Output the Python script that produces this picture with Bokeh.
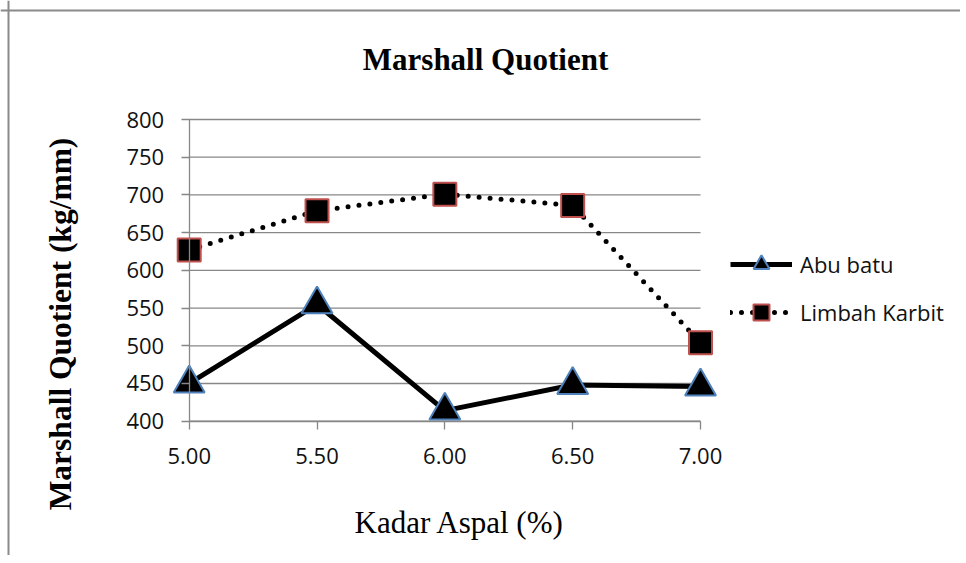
from bokeh.plotting import figure
from bokeh.models import (ColumnDataSource, Legend, LegendItem, Label, FixedTicker,
                          NumeralTickFormatter, Range1d, Span)
from bokeh.embed import file_html
from bokeh.resources import INLINE
import math

# ---- data ----
kadar_aspal = [5.00, 5.50, 6.00, 6.50, 7.00]
abu_batu = [450, 555, 414, 448, 446]
limbah_karbit = [627, 679, 701, 686, 504]
x_ticks = [5.0, 5.5, 6.0, 6.5, 7.0]
y_ticks = [400, 450, 500, 550, 600, 650, 700, 750, 800]

title_text = "Marshall Quotient"
x_title = "Kadar Aspal (%)"
y_title = "Marshall Quotient (kg/mm)"

# ---- geometry: where the data box sits on the canvas (px) ----
W, H = 960, 555
PX_L, PX_R = 188.7, 700.0    # x = 5.0 and 7.0
PY_B, PY_T = 420.7, 119.0    # y = 400 and 800
X0, X1 = x_ticks[0], x_ticks[-1]
Y0, Y1 = y_ticks[0], y_ticks[-1]

def dx(px):
    return X0 + (px - PX_L) * (X1 - X0) / (PX_R - PX_L)

def dy(py):
    return Y0 + (PY_B - py) * (Y1 - Y0) / (PY_B - PY_T)

src = ColumnDataSource(dict(x=kadar_aspal, a=abu_batu, l=limbah_karbit))

p = figure(width=W, height=H, output_backend="svg", toolbar_location=None,
           x_range=Range1d(dx(0), dx(W)), y_range=Range1d(dy(H), dy(0)),
           min_border=0, outline_line_color=None,
           background_fill_color="white", border_fill_color="white")

GRID = "#878787"
p.xgrid.visible = False
p.ygrid.visible = False
# horizontal gridlines only across the data box
p.segment(x0=[X0] * len(y_ticks), x1=[X1] * len(y_ticks), y0=y_ticks, y1=y_ticks,
          line_color=GRID, line_width=1.3)

p.yaxis.ticker = FixedTicker(ticks=y_ticks)
p.xaxis.ticker = FixedTicker(ticks=x_ticks)
p.xaxis.formatter = NumeralTickFormatter(format="0.00")
p.xaxis.fixed_location = Y0
p.yaxis.fixed_location = X0
p.xaxis.bounds = (X0, X1)
p.yaxis.bounds = (Y0, Y1)
for ax in (p.xaxis[0], p.yaxis[0]):
    ax.axis_line_color = GRID
    ax.axis_line_width = 1.3
    ax.major_tick_line_color = GRID
    ax.major_tick_line_width = 1.3
    ax.major_tick_out = 8
    ax.major_tick_in = 0
    ax.minor_tick_line_color = None
    ax.major_label_text_font = "Open Sans"
    ax.major_label_text_font_size = "22px"
    ax.major_label_text_color = "#111111"
p.yaxis.major_label_standoff = 17
p.xaxis.major_label_standoff = 19

# chart border (top and left edge of the chart area)
p.add_layout(Span(location=dy(10), dimension="width", line_color="#8a8a8a", line_width=2))
p.add_layout(Span(location=dx(8), dimension="height", line_color="#8a8a8a", line_width=2))

# series
la = p.line("x", "a", source=src, line_color="black", line_width=5)
ma = p.scatter("x", "a", source=src, marker="triangle", size=31,
               fill_color="black", line_color="#4F81BD", line_width=2)
ll = p.line("x", "l", source=src, line_color="black", line_width=5,
            line_dash="0 11", line_cap="round")
ml = p.scatter("x", "l", source=src, marker="square", size=23,
               fill_color="black", line_color="#C0504D", line_width=2)

legend = Legend(items=[LegendItem(label="Abu batu", renderers=[la, ma]),
                       LegendItem(label="Limbah Karbit", renderers=[ll, ml])],
                location=(730, H - 332), orientation="vertical",
                glyph_width=62, glyph_height=40, label_height=40, spacing=8,
                label_standoff=8, padding=0, margin=0,
                border_line_color=None, background_fill_alpha=0,
                label_text_font="Open Sans", label_text_font_size="22px",
                label_text_color="#111111")
p.add_layout(legend)

# titles
p.add_layout(Label(x=dx(485), y=dy(59), text=title_text, text_align="center",
                   text_baseline="alphabetic", text_font="Liberation Serif",
                   text_font_style="bold", text_font_size="31px", text_color="black"))
p.add_layout(Label(x=dx(459), y=dy(522), text=x_title, text_align="center",
                   text_baseline="alphabetic", text_font="Liberation Serif",
                   text_font_size="31px", text_color="black"))
p.add_layout(Label(x=dx(60), y=dy(323.5), text=y_title, text_align="center",
                   text_baseline="middle", angle=math.pi / 2, text_font="Liberation Serif",
                   text_font_style="bold", text_font_size="31.5px", text_color="black"))

open("out.html", "w").write(file_html(p, INLINE))
